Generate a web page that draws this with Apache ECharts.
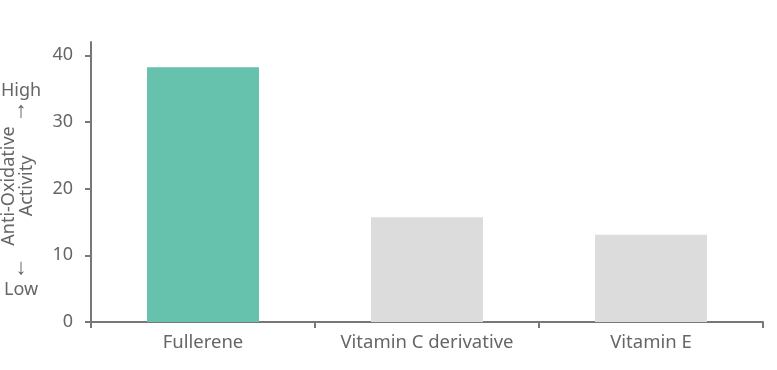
<!DOCTYPE html>
<html><head><meta charset="utf-8">
<script src="https://cdn.jsdelivr.net/npm/echarts@6/dist/echarts.min.js"></script>
<style>html,body{margin:0;padding:0;background:#fff}#c{width:777px;height:370px}</style>
</head><body><div id="c"></div>
<script>
const categories = ['Fullerene', 'Vitamin C derivative', 'Vitamin E'];
const values = [38.2, 15.7, 13.1];
const barColors = ['#66c2ad', '#dcdcdc', '#dcdcdc'];
const yTicks = [0, 10, 20, 30, 40];

const chart = echarts.init(document.getElementById('c'));
const font = 'Noto Sans';
chart.setOption({
  animation: false,
  grid: { left: 91, right: 14, top: 42, bottom: 48 },
  xAxis: {
    type: 'category', data: categories,
    axisLine: { lineStyle: { color: '#777', width: 2 } },
    axisTick: { show: true, interval: 0, length: 6, lineStyle: { color: '#777', width: 2 } },
    axisLabel: { color: '#666', fontSize: 18.5, fontFamily: font, margin: 11, interval: 0, hideOverlap: false }
  },
  yAxis: {
    type: 'value', min: 0, max: 42,
    splitLine: { show: false },
    axisLine: { show: true, lineStyle: { color: '#777', width: 2 } },
    axisTick: { show: true, length: 6, customValues: yTicks, lineStyle: { color: '#777', width: 2 } },
    axisLabel: { color: '#666', fontSize: 18, fontFamily: font, margin: 18, customValues: yTicks }
  },
  series: [{
    type: 'bar', barWidth: '50%',
    data: values.map((v, i) => ({ value: v, itemStyle: { color: barColors[i] } }))
  }],
  graphic: [
    { type: 'text', x: 21, y: 91, style: { text: 'High', fill: '#666', font: '18px "' + font + '"', align: 'center', verticalAlign: 'middle' } },
    { type: 'text', x: 21, y: 111, style: { text: '↑', fill: '#666', font: '22px Roboto', align: 'center', verticalAlign: 'middle' } },
    { type: 'text', x: 18, y: 186, rotation: Math.PI / 2,
      style: { text: 'Anti-Oxidative\nActivity', fill: '#666', font: '18px "' + font + '"', align: 'center', verticalAlign: 'middle', lineHeight: 18 } },
    { type: 'text', x: 21, y: 268, style: { text: '↓', fill: '#666', font: '22px Roboto', align: 'center', verticalAlign: 'middle' } },
    { type: 'text', x: 21, y: 290, style: { text: 'Low', fill: '#666', font: '18px "' + font + '"', align: 'center', verticalAlign: 'middle' } }
  ]
});
</script></body></html>
